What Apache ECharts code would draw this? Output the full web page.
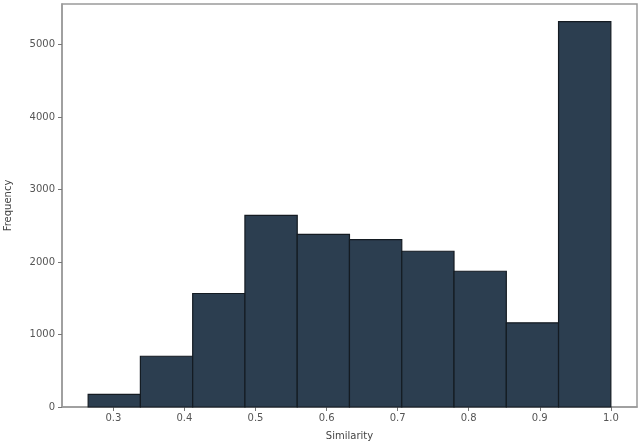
<!DOCTYPE html>
<html><head><meta charset="utf-8">
<script src="https://cdn.jsdelivr.net/npm/echarts@6/dist/echarts.min.js"></script>
<style>html,body{margin:0;padding:0;background:#fff}#c{width:640px;height:447px}</style>
</head><body><div id="c"></div>
<script>
const binEdges = [0.2645, 0.338, 0.4116, 0.4851, 0.5587, 0.6322, 0.7058, 0.7793, 0.8529, 0.9264, 1.0];
const counts = [175, 700, 1566, 2645, 2383, 2310, 2149, 1873, 1161, 5318];
const xTicks = [0.3, 0.4, 0.5, 0.6, 0.7, 0.8, 0.9, 1.0];
const yTicks = [0, 1000, 2000, 3000, 4000, 5000];

const data = counts.map((c, i) => [binEdges[i], binEdges[i + 1], c]);
const font = 'DejaVu Sans';
const chart = echarts.init(document.getElementById('c'), null, {renderer: 'canvas'});
chart.setOption({
  animation: false,
  grid: {left: 62, right: 3, top: 4, bottom: 40, containLabel: false, outerBoundsMode: 'none',
    show: true, borderColor: '#9a9a9a', borderWidth: 1.5, backgroundColor: '#fff'},
  xAxis: {
    type: 'value', min: 0.2277, max: 1.0368,
    name: 'Similarity', nameLocation: 'middle', nameGap: 24,
    nameTextStyle: {color: '#444', fontSize: 10, fontFamily: font},
    axisLine: {show: true, lineStyle: {color: '#9a9a9a', width: 1.5}},
    axisTick: {show: true, length: 4, lineStyle: {color: '#777'}, customValues: xTicks},
    axisLabel: {color: '#555', fontSize: 10, fontFamily: font, margin: 6, customValues: xTicks,
      formatter: v => v.toFixed(1)},
    splitLine: {show: false}
  },
  yAxis: {
    type: 'value', min: 0, max: 5560,
    name: 'Frequency', nameLocation: 'middle', nameGap: 49,
    nameTextStyle: {color: '#444', fontSize: 10, fontFamily: font},
    axisLine: {show: true, lineStyle: {color: '#9a9a9a', width: 1.5}},
    axisTick: {show: true, length: 4, lineStyle: {color: '#777'}, customValues: yTicks},
    axisLabel: {color: '#555', fontSize: 10, fontFamily: font, margin: 7, customValues: yTicks,
      formatter: v => String(Math.round(v))},
    splitLine: {show: false}
  },
  series: [{
    type: 'custom',
    data: data,
    encode: {x: [0, 1], y: 2},
    renderItem: function (params, api) {
      const p0 = api.coord([api.value(0), api.value(2)]);
      const p1 = api.coord([api.value(1), 0]);
      return {
        type: 'rect',
        shape: {x: p0[0], y: p0[1], width: p1[0] - p0[0], height: p1[1] - p0[1]},
        style: {fill: '#2c3e50', stroke: '#141b22', lineWidth: 1.2}
      };
    }
  }]
});
</script></body></html>
